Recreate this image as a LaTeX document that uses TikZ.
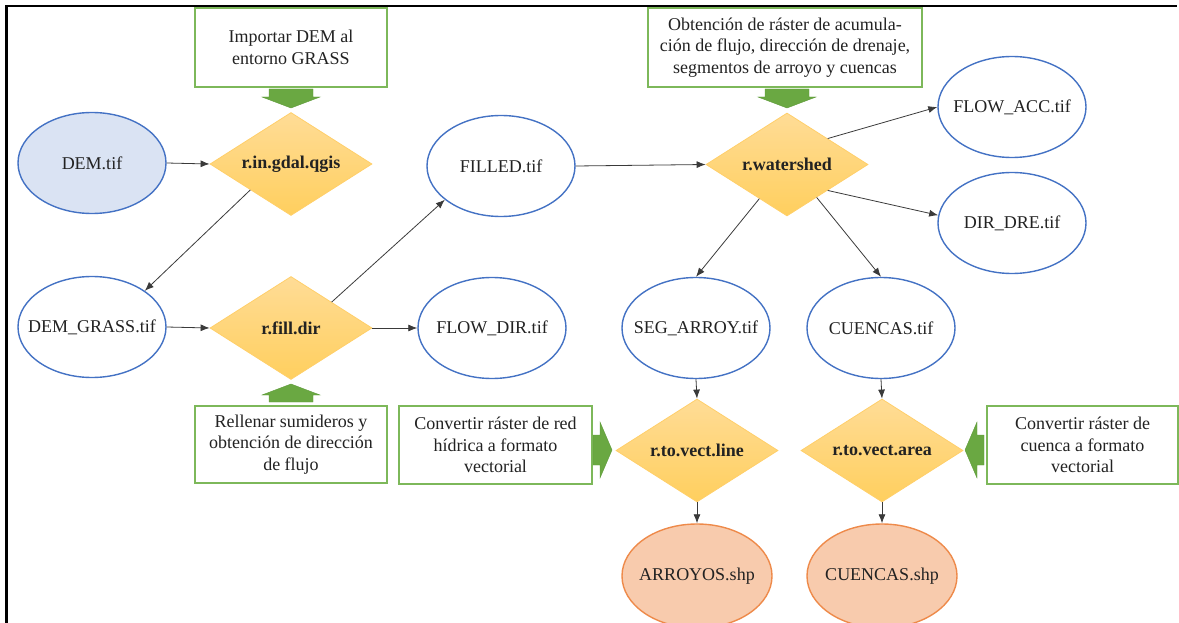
\documentclass[tikz,border=0pt]{standalone}
\usepackage{fontspec}
\setmainfont{Liberation Serif}
\newfontfamily\tnr{Liberation Serif}
\usetikzlibrary{shapes.geometric,arrows.meta}
\definecolor{eblue}{HTML}{4472C4}
\definecolor{lblue}{HTML}{DAE3F3}
\definecolor{gbox}{HTML}{7DB85A}
\definecolor{garrow}{HTML}{6AA842}
\definecolor{garrowd}{HTML}{5E9A3A}
\definecolor{dtop}{HTML}{FFDC96}
\definecolor{dbot}{HTML}{FFCF5E}
\definecolor{dedge}{HTML}{FFCF6A}
\definecolor{ofill}{HTML}{F8CBAD}
\definecolor{oedge}{HTML}{EE8A4A}
\definecolor{txt}{HTML}{222222}
\definecolor{conn}{HTML}{3A3A3A}
\newcommand{\zb}[1]{\makebox[0pt]{#1}}
\begin{document}
\begin{tikzpicture}[x=1pt,y=-1pt,
  every node/.style={font=\tnr\fontsize{18}{21.5}\selectfont, text=txt},
  fileell/.style={ellipse, draw=eblue, line width=1.4pt, fill=white, minimum width=148pt, minimum height=101pt, inner sep=0pt},
  inell/.style={fileell, fill=lblue},
  outell/.style={ellipse, draw=oedge, line width=1.4pt, fill=ofill, minimum width=150pt, minimum height=104pt, inner sep=0pt},
  proc/.style={diamond, aspect=1.57, draw=dedge, line width=0.8pt, top color=dtop, bottom color=dbot, minimum width=162pt, minimum height=103pt, inner sep=0pt, font=\tnr\fontsize{18}{21.5}\selectfont\bfseries},
  note/.style={rectangle, draw=gbox, line width=1.4pt, fill=white, align=center, inner sep=0pt},
  conn/.style={draw=conn, line width=0.8pt, -{Latex[length=9pt,width=7pt]}},
  blockarrow/.style={fill=garrow, draw=garrowd, line width=0.4pt}
]
\useasboundingbox (0,0) rectangle (1179,623);
% frame
\draw[line width=2.5pt, black] (6.3,623) -- (6.3,6) -- (1177,6);

% notes
\node[note, minimum width=192pt, minimum height=79pt] (n1) at (291,47.5) {Importar DEM al\\entorno GRASS};
\node[note, minimum width=274pt, minimum height=79pt] (n2) at (785,47.5) {Obtención de ráster de acumula-\\ción de flujo, dirección de drenaje,\\segmentos de arroyo y cuencas};
\node[note, minimum width=192pt, minimum height=77pt] (n3) at (291,444.5) {Rellenar sumideros y\\obtención de dirección\\de flujo};
\node[note, minimum width=193pt, minimum height=78pt] (n4) at (495.5,445) {Convertir ráster de red\\hídrica a formato\\vectorial};
\node[note, minimum width=191pt, minimum height=78pt] (n5) at (1082.5,445) {Convertir ráster de\\cuenca a formato\\vectorial};

% block arrows
\filldraw[blockarrow] (269,89) -- (313,89) -- (313,97) -- (320,97) -- (291,108) -- (262,97) -- (269,97) -- cycle;
\filldraw[blockarrow] (765,89) -- (809,89) -- (809,97) -- (816,97) -- (787,108) -- (758,97) -- (765,97) -- cycle;
\filldraw[blockarrow] (269,402) -- (313,402) -- (313,395) -- (320,395) -- (291,384) -- (262,395) -- (269,395) -- cycle;
\filldraw[blockarrow] (593,435) -- (600,435) -- (600,422) -- (612,450) -- (600,478) -- (600,465) -- (593,465) -- cycle;
\filldraw[blockarrow] (984,435) -- (977,435) -- (977,422) -- (965,450) -- (977,478) -- (977,465) -- (984,465) -- cycle;

% file nodes
\node[inell] (dem) at (92,163) {\zb{DEM.tif}};
\node[fileell] (demg) at (92,327) {\zb{DEM\_GRASS.tif}};
\node[fileell] (filled) at (501,166) {\zb{FILLED.tif}};
\node[fileell] (flowdir) at (492,328) {\zb{FLOW\_DIR.tif}};
\node[fileell] (facc) at (1012,107) {\zb{FLOW\_ACC.tif}};
\node[fileell] (dd) at (1012,223) {\zb{DIR\_DRE.tif}};
\node[fileell] (seg) at (696,328) {\zb{SEG\_ARROY.tif}};
\node[fileell] (cue) at (881,328) {\zb{CUENCAS.tif}};
\node[outell] (arr) at (697,576) {\zb{ARROYOS.shp}};
\node[outell] (cshp) at (882,576) {\zb{CUENCAS.shp}};

% process nodes
\node[proc] (gdal) at (291,164) {\zb{r.in.gdal.qgis}};
\node[proc] (fill) at (291,328) {\zb{r.fill.dir}};
\node[proc] (ws) at (787,164.5) {\zb{r.watershed}};
\node[proc] (vl) at (697,450.5) {\zb{r.to.vect.line}};
\node[proc] (va) at (882,450.5) {\zb{r.to.vect.area}};

% connectors
\draw[conn] (dem.east) -- (gdal.west);
\draw[conn] (gdal.south west) -- (demg.north east);
\draw[conn] (demg.east) -- (fill.west);
\draw[conn] (fill.north east) -- (filled.211);
\draw[conn] (fill.east) -- (flowdir.west);
\draw[conn] (filled.east) -- (ws.west);
\draw[conn] (ws.north east) -- (facc.west);
\draw[conn] (ws.south east) -- (dd.174);
\draw[conn] (ws.-129) -- (seg.north);
\draw[conn] (ws.-48) -- (cue.north);
\draw[conn] (seg.south) -- (vl.north);
\draw[conn] (vl.south) -- (arr.north);
\draw[conn] (cue.south) -- (va.north);
\draw[conn] (va.south) -- (cshp.north);
\end{tikzpicture}
\end{document}
